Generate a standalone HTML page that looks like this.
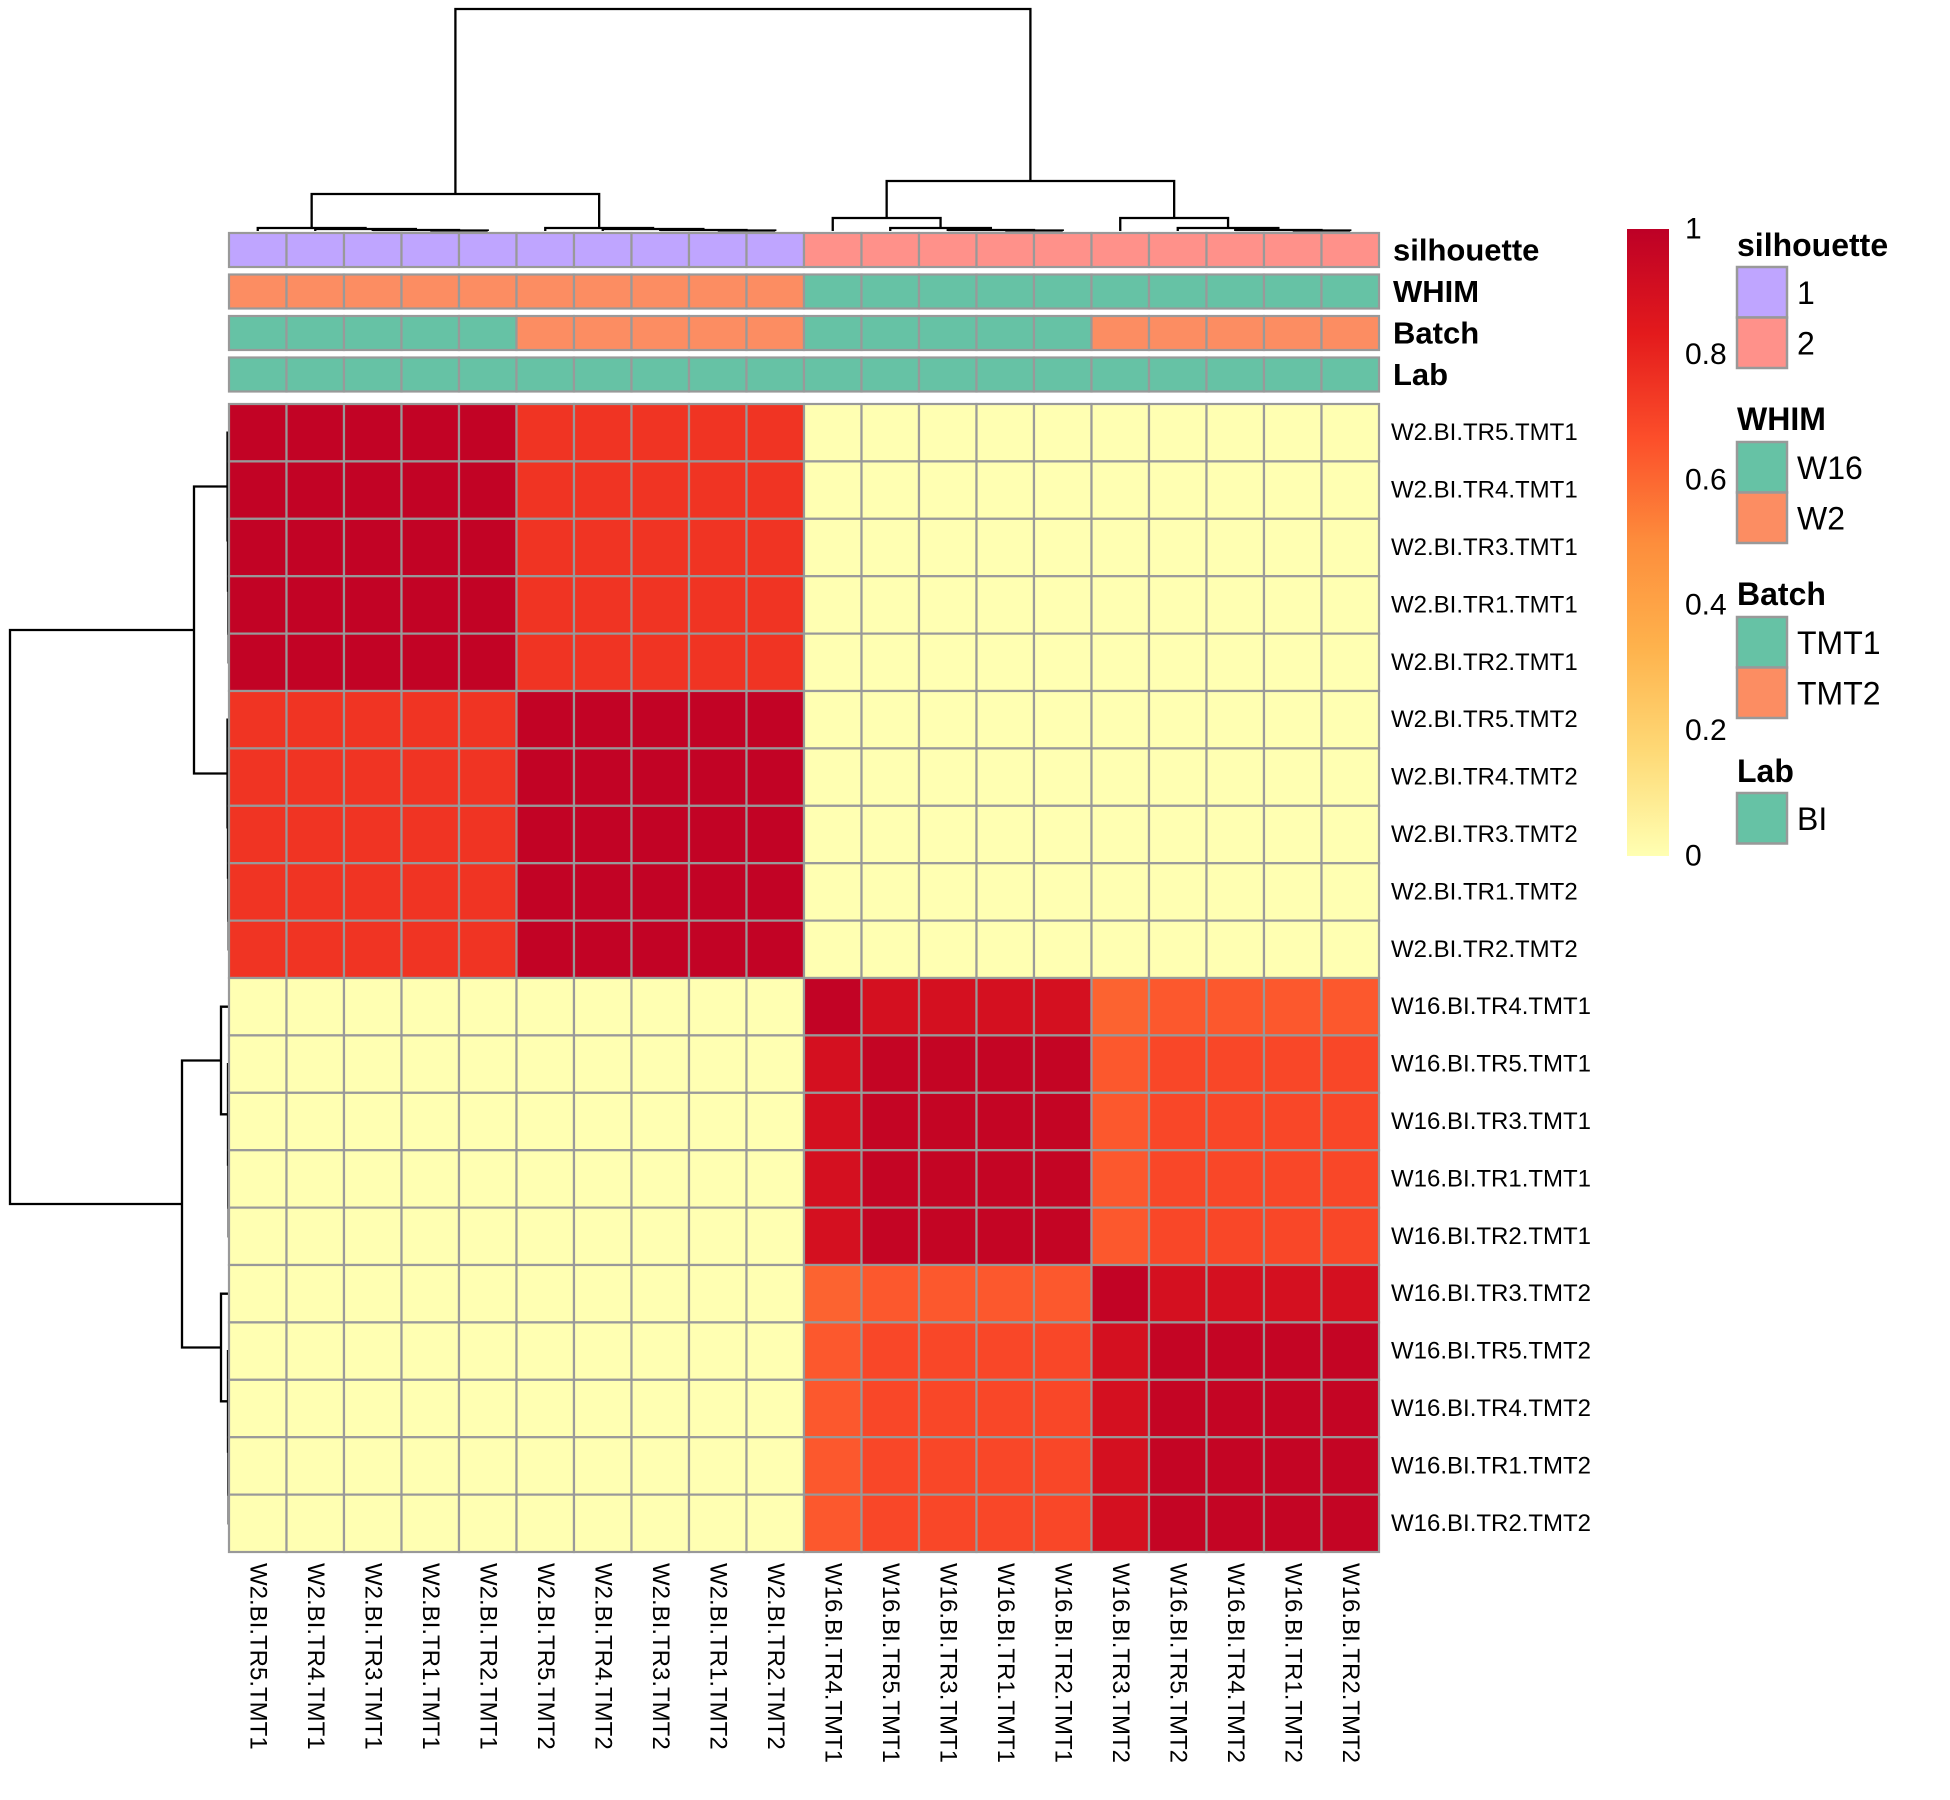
<!DOCTYPE html>
<html><head><meta charset="utf-8"><style>
html,body{margin:0;padding:0;background:#fff;}
svg{display:block;font-family:"Liberation Sans",Arial,sans-serif;}
</style></head>
<body>
<svg id="chart" width="1950" height="1800" viewBox="0 0 1950 1800" xmlns="http://www.w3.org/2000/svg">
<defs>
<linearGradient id="cbar" x1="0" y1="1" x2="0" y2="0">
<stop offset="0" stop-color="#FFFFB2"/><stop offset="0.1667" stop-color="#FED976"/><stop offset="0.3333" stop-color="#FEB24C"/><stop offset="0.5" stop-color="#FD8D3C"/><stop offset="0.6667" stop-color="#FC4E2A"/><stop offset="0.8333" stop-color="#E31A1C"/><stop offset="1" stop-color="#BD0026"/>
</linearGradient>
</defs>
<g id="dendro-top"></g>
<g id="dendro-left"></g>
<g id="annot"></g>
<g id="cells"></g>
<g id="rowlabels"></g>
<g id="collabels"></g>
<g id="colorbar"></g>
<g id="legend"></g>
</svg>
<script>
// ---- data ----
const labels = ["W2.BI.TR5.TMT1","W2.BI.TR4.TMT1","W2.BI.TR3.TMT1","W2.BI.TR1.TMT1","W2.BI.TR2.TMT1",
"W2.BI.TR5.TMT2","W2.BI.TR4.TMT2","W2.BI.TR3.TMT2","W2.BI.TR1.TMT2","W2.BI.TR2.TMT2",
"W16.BI.TR4.TMT1","W16.BI.TR5.TMT1","W16.BI.TR3.TMT1","W16.BI.TR1.TMT1","W16.BI.TR2.TMT1",
"W16.BI.TR3.TMT2","W16.BI.TR5.TMT2","W16.BI.TR4.TMT2","W16.BI.TR1.TMT2","W16.BI.TR2.TMT2"];
const silhouette = ["1","1","1","1","1","1","1","1","1","1","2","2","2","2","2","2","2","2","2","2"];
const whim = ["W2","W2","W2","W2","W2","W2","W2","W2","W2","W2","W16","W16","W16","W16","W16","W16","W16","W16","W16","W16"];
const batch = ["TMT1","TMT1","TMT1","TMT1","TMT1","TMT2","TMT2","TMT2","TMT2","TMT2","TMT1","TMT1","TMT1","TMT1","TMT1","TMT2","TMT2","TMT2","TMT2","TMT2"];
const lab = ["BI","BI","BI","BI","BI","BI","BI","BI","BI","BI","BI","BI","BI","BI","BI","BI","BI","BI","BI","BI"];
const rowA = [0.98,0.98,0.98,0.98,0.98,0.75,0.75,0.75,0.75,0.75,0,0,0,0,0,0,0,0,0,0];
const rowB = [0.75,0.75,0.75,0.75,0.75,0.98,0.98,0.98,0.98,0.98,0,0,0,0,0,0,0,0,0,0];
const rowC0 = [0,0,0,0,0,0,0,0,0,0,0.98,0.9,0.9,0.9,0.9,0.61,0.64,0.64,0.64,0.64];
const rowC = [0,0,0,0,0,0,0,0,0,0,0.9,0.97,0.97,0.97,0.97,0.64,0.69,0.69,0.69,0.69];
const rowD0 = [0,0,0,0,0,0,0,0,0,0,0.61,0.64,0.64,0.64,0.64,0.98,0.9,0.9,0.9,0.9];
const rowD = [0,0,0,0,0,0,0,0,0,0,0.64,0.69,0.69,0.69,0.69,0.9,0.97,0.97,0.97,0.97];
const matrix = [rowA,rowA,rowA,rowA,rowA,rowB,rowB,rowB,rowB,rowB,rowC0,rowC,rowC,rowC,rowC,rowD0,rowD,rowD,rowD,rowD];
// merges: [childA, childB, height]; leaves 0..19, new nodes 20+
const colMerges = [[3,4,0.5],[20,2,1],[21,1,2],[22,0,3],[8,9,0.5],[24,7,1],[25,6,2],[26,5,3],[23,27,37],
[13,14,0.5],[29,12,1],[30,11,3],[31,10,13],[18,19,0.5],[33,17,1],[34,16,3],[35,15,13],[32,36,50],[28,37,222]];
const rowMerges = [[3,4,0.3],[20,2,0.6],[21,1,1],[22,0,1.5],[8,9,0.3],[24,7,0.6],[25,6,1],[26,5,1.5],[23,27,35],
[13,14,0.3],[29,12,0.6],[30,11,1],[31,10,8],[18,19,0.3],[33,17,0.6],[34,16,1],[35,15,8],[32,36,47],[28,37,219]];
const cbTicks = [0,0.2,0.4,0.6,0.8,1];
const cbTickLabels = ["0","0.2","0.4","0.6","0.8","1"];

// ---- scales ----
const NS="http://www.w3.org/2000/svg";
const X0=229, X1=1379, Y0=404, Y1=1552, N=labels.length;
const cw=(X1-X0)/N, rh=(Y1-Y0)/N;
const xc=i=>X0+cw*(i+0.5), yc=i=>Y0+rh*(i+0.5);
const stops=[[0,"#FFFFB2"],[1/6,"#FED976"],[2/6,"#FEB24C"],[3/6,"#FD8D3C"],[4/6,"#FC4E2A"],[5/6,"#E31A1C"],[1,"#BD0026"]];
function hex(h){return [1,3,5].map(k=>parseInt(h.substr(k,2),16));}
function color(v){v=Math.max(0,Math.min(1,v));for(let k=0;k<stops.length-1;k++){const [a,ca]=stops[k],[b,cb]=stops[k+1];if(v<=b){const t=(v-a)/(b-a),A=hex(ca),B=hex(cb);return "rgb("+A.map((x,j)=>Math.round(x+(B[j]-x)*t)).join(",")+")";}}return stops[6][1];}
const annColors={silhouette:{"1":"#BFA5FF","2":"#FF918A"},WHIM:{"W16":"#66C2A5","W2":"#FC8D62"},Batch:{"TMT1":"#66C2A5","TMT2":"#FC8D62"},Lab:{"BI":"#66C2A5"}};
function el(tag,attrs,parent){const e=document.createElementNS(NS,tag);for(const k in attrs)e.setAttribute(k,attrs[k]);parent.appendChild(e);return e;}

// ---- heatmap ----
const cells=document.getElementById("cells");
for(let r=0;r<N;r++)for(let c=0;c<N;c++){
 const e=el("rect",{x:X0+c*cw,y:Y0+r*rh,width:cw,height:rh,fill:color(matrix[r][c]),stroke:"#999999","stroke-width":2.2},cells);
 
 
}
// row labels
const rl=document.getElementById("rowlabels");
labels.forEach((t,i)=>{const e=el("text",{x:1391,y:yc(i),"font-size":24,"dominant-baseline":"central"},rl);e.textContent=t;
 
 });
// column labels
const cl=document.getElementById("collabels");
labels.forEach((t,i)=>{const e=el("text",{x:0,y:0,"font-size":24,"dominant-baseline":"central",transform:"translate("+xc(i)+",1563) rotate(90)"},cl);e.textContent=t;
 
 });

// ---- annotations ----
const ann=document.getElementById("annot");
const annRows=[["silhouette",silhouette,233],["WHIM",whim,274.5],["Batch",batch,316],["Lab",lab,357.5]];
annRows.forEach(([name,vals,top])=>{
 vals.forEach((v,i)=>{const e=el("rect",{x:X0+i*cw,y:top,width:cw,height:34,fill:annColors[name][v],stroke:"#999999","stroke-width":2.2},ann);
  
  });
 const t=el("text",{x:1393,y:top+17,"font-size":31,"font-weight":"bold","dominant-baseline":"central"},ann);t.textContent=name;
 
 
});

// ---- dendrograms ----
function dendro(merges,gid,pos,base,horizontal){
 const g=document.getElementById(gid);const P={},H={};
 for(let i=0;i<N;i++){P[i]=pos(i);H[i]=0;}
 merges.forEach((m,k)=>{const id=N+k,[a,b,h]=m;
  P[id]=(P[a]+P[b])/2;H[id]=h;
  let d;
  if(!horizontal){const ya=base-H[a],yb=base-H[b],y=base-h;d="M"+P[a]+","+ya+"V"+y+"H"+P[b]+"V"+yb;}
  else{const xa=base-H[a],xb=base-H[b],x=base-h;d="M"+xa+","+P[a]+"H"+x+"V"+P[b]+"H"+xb;}
  const e=el("path",{d:d,fill:"none",stroke:"#000","stroke-width":2.3},g);
  
  
 });
}
dendro(colMerges,"dendro-top",xc,231,false);
dendro(rowMerges,"dendro-left",yc,229,true);

// ---- color bar ----
const cb=document.getElementById("colorbar");
const CBT=229,CBB=856;
const bar=el("rect",{x:1627,y:CBT,width:42,height:CBB-CBT,fill:"url(#cbar)"},cb);


cbTicks.forEach((v,i)=>{const t=el("text",{x:1685,y:CBB-(CBB-CBT)*v,"font-size":30,"dominant-baseline":"central"},cb);t.textContent=cbTickLabels[i];
 
 });

// ---- legend ----
const lg=document.getElementById("legend");
const legendGroups=[["silhouette",["1","2"],245,267],["WHIM",["W16","W2"],419,442],["Batch",["TMT1","TMT2"],594,617],["Lab",["BI"],771,793]];
legendGroups.forEach(([name,keys,ty,by])=>{
 const t=el("text",{x:1737,y:ty,"font-size":32,"font-weight":"bold","dominant-baseline":"central"},lg);t.textContent=name;
 
 
 keys.forEach((k,i)=>{const r=el("rect",{x:1737,y:by+i*50.5,width:50,height:50.5,fill:annColors[name][k],stroke:"#999999","stroke-width":2.5},lg);
  
  
  const l=el("text",{x:1797,y:by+i*50.5+26,"font-size":32,"dominant-baseline":"central"},lg);l.textContent=k;
  
  });
});
</script>
</body></html>
